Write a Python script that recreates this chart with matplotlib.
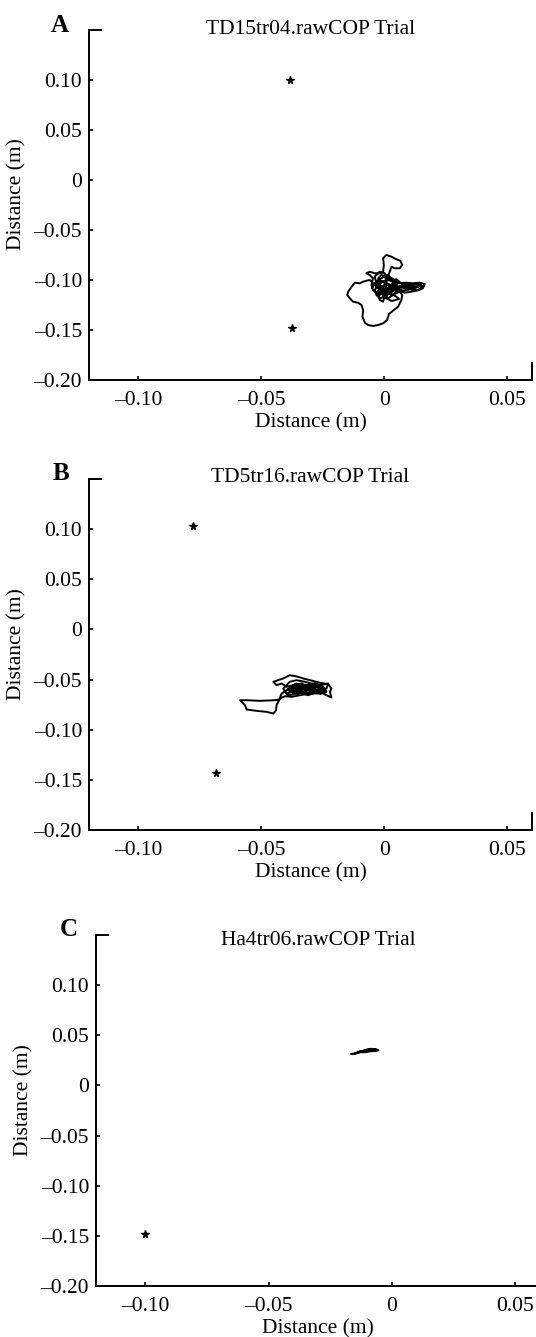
import matplotlib
matplotlib.use("Agg")
import matplotlib.pyplot as plt

plt.rcParams['font.family'] = ['Liberation Serif', 'DejaVu Serif']

# ---------------- data ----------------
titles = ["TD15tr04.rawCOP Trial", "TD5tr16.rawCOP Trial", "Ha4tr06.rawCOP Trial"]
panel_letters = ["A", "B", "C"]

xticks = [-0.10, -0.05, 0.0, 0.05]
xtick_labels = ["\u20130.10", "\u20130.05", "0", "0.05"]
yticks = [-0.20, -0.15, -0.10, -0.05, 0.0, 0.05, 0.10]
ytick_labels = ["\u20130.20", "\u20130.15", "\u20130.10", "\u20130.05", "0", "0.05", "0.10"]
xlim = (-0.12, 0.06)
ylim = (-0.20, 0.15)

# markers (stars)
starsA_x = [-0.0385, -0.0375]
starsA_y = [0.100, -0.148]
starsB_x = [-0.0777, -0.0685]
starsB_y = [0.103, -0.143]
starsC_x = [-0.100]
starsC_y = [-0.148]

# COP traces
traceA_x = [-0.0019, -0.0032, -0.0046, -0.0059, -0.0073, -0.0086, -0.0100, -0.0120, -0.0133, -0.0147,
            -0.0151, -0.0140, -0.0127, -0.0107, -0.0093, -0.0086, -0.0089, -0.0079, -0.0066, -0.0046,
            -0.0025, -0.0005, 0.0011, 0.0019, 0.0035, 0.0056, 0.0069, 0.0073, 0.0062, 0.0042,
            0.0022, 0.0002, -0.0019, -0.0032, -0.0039, -0.0025, -0.0005, 0.0015, 0.0035, 0.0056,
            0.0089, 0.0116, 0.0143, 0.0164, 0.0157, 0.0130, 0.0103, 0.0076, 0.0049, 0.0029,
            0.0008, -0.0012, -0.0032, -0.0046, -0.0052, -0.0046, -0.0059, -0.0073, -0.0059, -0.0039,
            -0.0019, -0.0005, -0.0002, -0.0005, 0.0008, 0.0029, 0.0049, 0.0065, 0.0073, 0.0062,
            0.0042, 0.0029, 0.0022, 0.0015, 0.0008, -0.0005, -0.0019, -0.0025, -0.0019, -0.0005,
            0.0002, 0.0015, 0.0042, 0.0069, 0.0103, 0.0137, 0.0157, 0.0143, 0.0109, 0.0082,
            0.0056, 0.0035, 0.0015, -0.0005, -0.0019, -0.0025, -0.0012, 0.0008, 0.0029, 0.0049,
            0.0062, 0.0042, 0.0015, -0.0012, -0.0032, -0.0039, -0.0019, 0.0002, 0.0008, 0.0002,
            -0.0019, -0.0030, -0.0010, 0.0020, 0.0040, 0.0060, 0.0030, 0.0000, -0.0030, -0.0010,
            0.0025, 0.0050, 0.0075, 0.0100, 0.0125, 0.0150, 0.0125, 0.0095, 0.0065, 0.0035,
            0.0010, -0.0020, -0.0040, -0.0015, 0.0015, 0.0045, 0.0060, 0.0030, 0.0005, -0.0010,
            0.0020, 0.0050, 0.0035, 0.0010, -0.0010, -0.0035, -0.0050]
traceA_y = [-0.1100, -0.1067, -0.1033, -0.1000, -0.1007, -0.1017, -0.1033, -0.1027, -0.1067, -0.1117,
            -0.1150, -0.1183, -0.1217, -0.1227, -0.1250, -0.1300, -0.1367, -0.1427, -0.1450, -0.1460,
            -0.1450, -0.1433, -0.1400, -0.1340, -0.1307, -0.1267, -0.1200, -0.1150, -0.1117, -0.1100,
            -0.1133, -0.1167, -0.1183, -0.1150, -0.1100, -0.1050, -0.1017, -0.1000, -0.1017, -0.1033,
            -0.1027, -0.1033, -0.1027, -0.1040, -0.1083, -0.1100, -0.1093, -0.1107, -0.1083, -0.1067,
            -0.1083, -0.1117, -0.1133, -0.1100, -0.1050, -0.0983, -0.0950, -0.0933, -0.0917, -0.0933,
            -0.0933, -0.0917, -0.0850, -0.0783, -0.0750, -0.0767, -0.0793, -0.0807, -0.0850, -0.0883,
            -0.0883, -0.0867, -0.0917, -0.0967, -0.1017, -0.1067, -0.1083, -0.1133, -0.1200, -0.1217,
            -0.1150, -0.1100, -0.1067, -0.1060, -0.1067, -0.1067, -0.1060, -0.1100, -0.1117, -0.1127,
            -0.1100, -0.1150, -0.1183, -0.1133, -0.1033, -0.0983, -0.0950, -0.0967, -0.1000, -0.0993,
            -0.1017, -0.1050, -0.1050, -0.1067, -0.1033, -0.0967, -0.0917, -0.0933, -0.1033, -0.1100,
            -0.1150, -0.1120, -0.1080, -0.1120, -0.1080, -0.1120, -0.1150, -0.1100, -0.1060, -0.1010,
            -0.1050, -0.1010, -0.1045, -0.1050, -0.1045, -0.1050, -0.1080, -0.1085, -0.1075, -0.1095,
            -0.1040, -0.1000, -0.1040, -0.1090, -0.1130, -0.1160, -0.1190, -0.1210, -0.1180, -0.1140,
            -0.1090, -0.1050, -0.0990, -0.0950, -0.0980, -0.1020, -0.1080]

traceB_x = [-0.0397, -0.0417, -0.0427, -0.0445, -0.0505, -0.0559, -0.0586, -0.0566, -0.0559, -0.0519,
            -0.0478, -0.0451, -0.0440, -0.0438, -0.0424, -0.0404, -0.0377, -0.0343, -0.0302, -0.0262,
            -0.0235, -0.0215, -0.0221, -0.0215, -0.0228, -0.0262, -0.0302, -0.0330, -0.0350, -0.0384,
            -0.0411, -0.0431, -0.0451, -0.0438, -0.0417, -0.0397, -0.0370, -0.0336, -0.0309, -0.0275,
            -0.0248, -0.0262, -0.0289, -0.0316, -0.0343, -0.0377, -0.0397, -0.0411, -0.0384, -0.0357,
            -0.0323, -0.0296, -0.0262, -0.0228, -0.0235, -0.0269, -0.0302, -0.0330, -0.0357, -0.0384,
            -0.0404, -0.0390, -0.0357, -0.0323, -0.0289, -0.0255, -0.0235, -0.0248, -0.0282, -0.0316,
            -0.0343, -0.0370, -0.0377, -0.0343, -0.0302, -0.0275, -0.0309, -0.0350, -0.0377, -0.0357,
            -0.0380, -0.0345, -0.0310, -0.0280, -0.0250, -0.0270, -0.0300, -0.0330, -0.0365, -0.0395,
            -0.0370, -0.0335, -0.0300, -0.0265, -0.0240, -0.0255, -0.0290, -0.0320, -0.0350, -0.0385,
            -0.0360, -0.0320, -0.0285, -0.0260]
traceB_y = [-0.0606, -0.0639, -0.0699, -0.0706, -0.0712, -0.0706, -0.0706, -0.0756, -0.0799, -0.0812,
            -0.0822, -0.0839, -0.0806, -0.0756, -0.0689, -0.0666, -0.0672, -0.0656, -0.0639, -0.0622,
            -0.0656, -0.0679, -0.0622, -0.0589, -0.0546, -0.0532, -0.0506, -0.0489, -0.0473, -0.0456,
            -0.0489, -0.0506, -0.0522, -0.0556, -0.0539, -0.0572, -0.0556, -0.0539, -0.0572, -0.0566,
            -0.0589, -0.0622, -0.0612, -0.0639, -0.0606, -0.0622, -0.0639, -0.0589, -0.0522, -0.0506,
            -0.0522, -0.0539, -0.0556, -0.0539, -0.0589, -0.0599, -0.0606, -0.0589, -0.0572, -0.0589,
            -0.0622, -0.0656, -0.0639, -0.0622, -0.0639, -0.0639, -0.0622, -0.0572, -0.0539, -0.0556,
            -0.0572, -0.0606, -0.0566, -0.0546, -0.0589, -0.0622, -0.0656, -0.0622, -0.0589, -0.0539,
            -0.0575, -0.0600, -0.0580, -0.0610, -0.0600, -0.0570, -0.0560, -0.0580, -0.0620, -0.0600,
            -0.0560, -0.0570, -0.0600, -0.0630, -0.0610, -0.0580, -0.0575, -0.0610, -0.0640, -0.0620,
            -0.0590, -0.0550, -0.0590, -0.0640]

traceC_x = [-0.0165, -0.0150, -0.0135, -0.0140, -0.0125, -0.0110, -0.0095, -0.0080, -0.0065, -0.0055,
            -0.0070, -0.0090, -0.0105, -0.0120, -0.0130, -0.0115, -0.0100, -0.0085, -0.0070, -0.0060,
            -0.0075, -0.0095, -0.0110, -0.0135, -0.0160]
traceC_y = [0.0315, 0.0318, 0.0325, 0.0335, 0.0340, 0.0350, 0.0355, 0.0352, 0.0358, 0.0350,
            0.0343, 0.0340, 0.0332, 0.0330, 0.0338, 0.0345, 0.0360, 0.0365, 0.0362, 0.0355,
            0.0348, 0.0345, 0.0338, 0.0328, 0.0312]

traces = [(traceA_x, traceA_y), (traceB_x, traceB_y), (traceC_x, traceC_y)]
stars = [(starsA_x, starsA_y), (starsB_x, starsB_y), (starsC_x, starsC_y)]

# ---------------- layout (pixels) ----------------
W, H = 536, 1337
fig = plt.figure(figsize=(W / 100, H / 100), dpi=100)
# left, top, right, bottom in pixels
boxes = [(89, 30, 532, 380), (89, 479, 532, 830), (96, 935, 540, 1286)]
title_y = [0.989, 0.991, 0.972]
letter_pos = [(51, 32), (53, 480), (60, 936)]

for i, (l, t, r, b) in enumerate(boxes):
    ax = fig.add_axes([l / W, (H - b) / H, (r - l) / W, (b - t) / H])
    tx, ty = traces[i]
    ax.plot(tx, ty, color='black', lw=1.4, solid_joinstyle='round')
    sx, sy = stars[i]
    ax.plot(sx, sy, linestyle='none', marker='*', color='black', ms=5.5)
    ax.set_xlim(*xlim)
    ax.set_ylim(*ylim)
    ax.set_xticks(xticks)
    ax.set_xticklabels(xtick_labels)
    ax.set_yticks(yticks)
    ax.set_yticklabels(ytick_labels)
    for s in ['top', 'right']:
        ax.spines[s].set_visible(False)
    for s in ['left', 'bottom']:
        ax.spines[s].set_linewidth(1.4)
    ax.tick_params(direction='in', length=3, width=1.2, labelsize=15.5, colors='black')
    ax.tick_params(axis='x', pad=8)
    ax.tick_params(axis='y', pad=5)
    # short stubs at top-left and bottom-right corners
    wpx, hpx = r - l, b - t
    ax.plot([0, 13 / wpx], [1, 1], transform=ax.transAxes, color='black', lw=1.4,
            clip_on=False, solid_capstyle='butt')
    ax.plot([1, 1], [0, 18 / hpx], transform=ax.transAxes, color='black', lw=1.4,
            clip_on=False, solid_capstyle='butt')
    ax.set_xlabel("Distance (m)", fontsize=15.5)
    ax.set_ylabel("Distance (m)", fontsize=15.5)
    ax.xaxis.set_label_coords(0.5, -0.095)
    ax.yaxis.set_label_coords(-0.14, 0.53)
    ax.text(0.5, title_y[i], titles[i], transform=ax.transAxes, ha='center',
            va='baseline', fontsize=15.5)
    lx, ly = letter_pos[i]
    fig.text(lx / W, (H - ly) / H, panel_letters[i], fontsize=18, fontweight='bold',
             ha='left', va='baseline')

fig.savefig("out.png", dpi=100, facecolor='white')
